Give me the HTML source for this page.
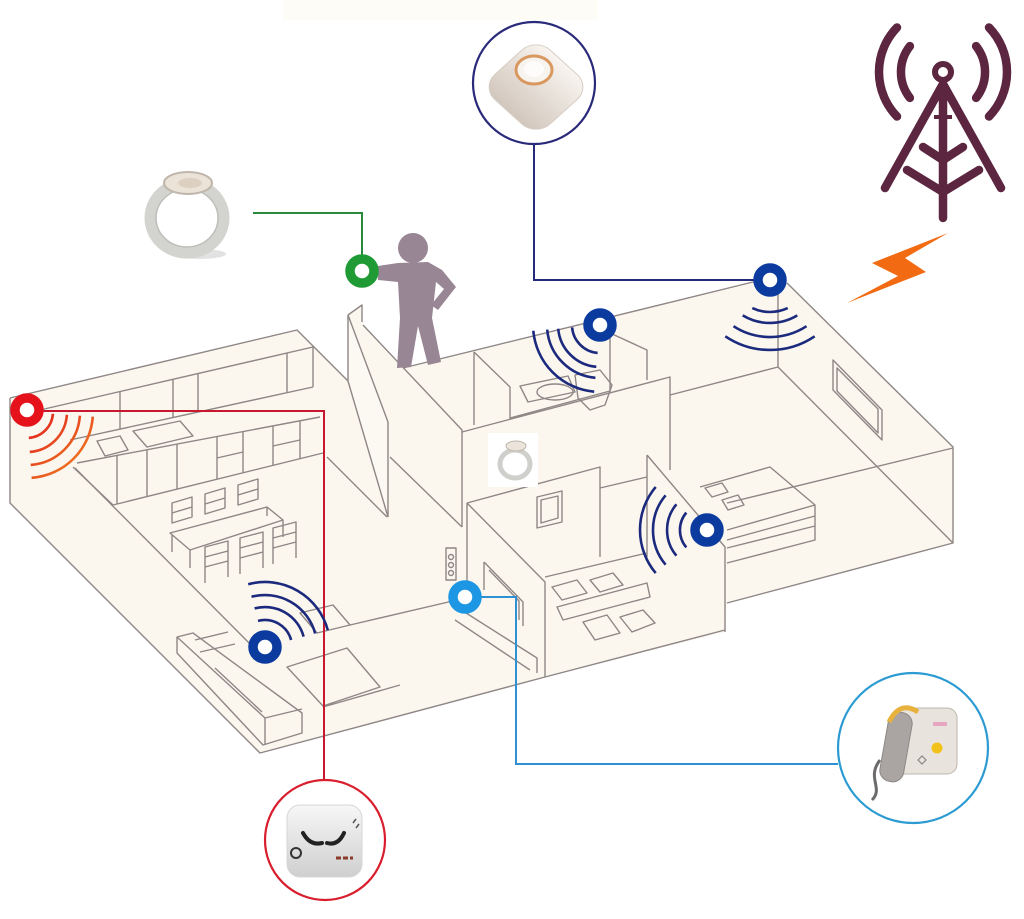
<!DOCTYPE html>
<html><head><meta charset="utf-8"><style>html,body{margin:0;padding:0;background:#fff}svg{display:block}</style></head>
<body>
<svg xmlns="http://www.w3.org/2000/svg" width="1024" height="919" viewBox="0 0 1024 919">
<defs>
<linearGradient id="dev" x1="0" y1="0" x2="0" y2="1"><stop offset="0" stop-color="#f8f4ef"/><stop offset="1" stop-color="#d2c7bd"/></linearGradient>
<linearGradient id="smk" x1="0" y1="0" x2="0" y2="1"><stop offset="0" stop-color="#f7f7f7"/><stop offset="1" stop-color="#cfcfcf"/></linearGradient>
<linearGradient id="redw" x1="27" y1="412" x2="90" y2="475" gradientUnits="userSpaceOnUse"><stop offset="0" stop-color="#e0141e"/><stop offset="1" stop-color="#f08a20"/></linearGradient>
</defs>
<rect width="1024" height="919" fill="#fff"/>
<rect x="283" y="0" width="315" height="20" fill="#fefcf6"/>

<polygon fill="#fbf7ef" points="10,398 297,330 348,381 348,315 362,305 363,325 403,368 757,281 787,283 953,447 953,543 727,603 725,632 545,677 260,753 10,503"/>

<polygon fill="#fcf9f3" stroke="#8f8686" stroke-width="1.4" points="348,315 388,422 388,517 348,381"/>

<g fill="none" stroke="#8f8686" stroke-width="1.4" stroke-linejoin="round">
<path d="M10,398 L297,330 L348,381 M10,398 V503 L260,753 L545,677 L725,630 M727,603 L953,543 V447 L787,283 M403,368 L757,281 M363,325 L462,430 V527"/>
<path d="M348,315 L362,305 V322"/>
<path d="M40,410 L313,347 V387 M70,440 L313,387 M120,391 V429 M173,379 V417 M198,374 V412 M287,353 V393"/>
<path d="M77,463 L320,417 M113,505 L323,453 M73,467 L113,505 M117,455 V504 M147,450 V497 M177,444 V489 M217,436 V479 M243,432 V473 M273,426 V466 M300,421 V459 M217,458 L243,452 M273,446 L300,440"/>
<path d="M97,441 L120,436 L128,450 L105,456 Z M133,431 L180,421 L193,436 L147,447 Z"/>
<path d="M75,468 L262,656 M327,457 L387,517 M390,457 L462,527"/>
<path d="M474,352 V425 M474,352 L510,387 V420 M462,432 L670,377 V470 M510,418 L610,391 M610,333 L647,350 V380 M610,333 V392"/>
<path d="M670,395 L778,367 M778,283 V367 L953,543 M727,503 L953,448"/>
<path d="M833,360 L882,410 V440 L833,390 Z M837,368 L878,409 V433 L837,391 Z"/>
<path d="M700,487 L770,467 L815,505 V540 L727,563 M727,530 L815,505 M727,540 L815,516 M727,548 L815,526"/>
<path d="M705,488 L722,483 L728,492 L712,497 Z M722,500 L738,495 L744,505 L728,510 Z"/>
<path d="M467,503 L600,467 V557 M467,503 L545,582 V677 M467,503 V585 M600,488 L647,477 M545,577 L647,553 M647,455 L725,547 V632 M647,455 V557"/>
<path d="M537,497 L562,491 V522 L537,528 Z M541,500 L558,496 V518 L541,523 Z"/>
<path d="M484,562 L523,602 V626 M484,562 V590 M489,570 L519,601 V620"/>
<path d="M455,606 L537,658 V673 M455,620 L530,670 M350,625 L457,600"/>
<rect x="446" y="548" width="10" height="32"/>
<circle cx="451" cy="557" r="2.5"/><circle cx="451" cy="565" r="2.5"/><circle cx="451" cy="573" r="2.5"/>
<ellipse cx="555" cy="392" rx="18" ry="8"/>
<path d="M575,375 L600,370 L612,385 L605,405 L590,410 L578,398 Z M520,386 L568,376 L575,392 L528,402 Z"/>
<path d="M557,607 L647,583 L650,597 L563,620 Z M552,587 L577,580 L587,593 L562,600 Z M590,580 L613,573 L623,585 L600,592 Z M583,622 L607,615 L620,633 L595,640 Z M620,617 L643,610 L655,623 L632,632 Z"/>
<path d="M177,637 L193,633 L302,713 V733 L263,745 L177,653 Z M177,637 L265,718 L302,709 M265,718 V745 M195,640 L228,632 M200,652 L235,644 M215,668 L262,712"/>
<path d="M287,667 L347,648 L380,687 L323,706 Z M300,613 L333,605 L350,625 L317,633 Z M323,707 L400,685"/>
<path d="M170,533 L267,507 L283,520 L190,550 Z M172,535 V552 M190,550 V568 M283,520 V537 M267,507 V516"/>
<path d="M172,503 L192,497 V517 L172,523 Z M205,494 L225,488 V508 L205,514 Z M238,485 L258,479 V499 L238,505 Z M172,513 L192,507 M205,504 L225,498 M238,495 L258,489"/>
<path d="M205,547 L228,541 V561 L205,567 Z M205,567 V583 M228,561 V577 M240,538 L263,532 V552 L240,558 Z M240,558 V574 M263,552 V568 M273,528 L296,522 V542 L273,548 Z M273,548 V564 M296,542 V558 M205,557 L228,551 M240,548 L263,542 M273,538 L296,532"/>
</g>

<rect x="488" y="433" width="50" height="54" fill="#ffffff"/>
<ellipse cx="515" cy="464" rx="15" ry="14" fill="none" stroke="#cfcfcc" stroke-width="5"/>
<ellipse cx="516" cy="446" rx="10" ry="5" fill="#ece4da" stroke="#bdb4aa"/>

<g fill="none" stroke-width="2">
<path d="M534,144 V280 H758" stroke="#252a7c"/>
<path d="M253,213 H362 V259" stroke="#2a8a3c"/>
<path d="M39,411 H324 V780" stroke="#c81830"/>
<path d="M477,597 H516 V764 H838" stroke="#2f90d4"/>
</g>

<g fill="none" stroke="url(#redw)" stroke-width="2.6">
<path d="M52.9,413.8 A26,26 0 0 1 28.8,437.9"/>
<path d="M66.9,414.8 A40,40 0 0 1 29.8,451.9"/>
<path d="M79.9,415.7 A53,53 0 0 1 30.7,464.9"/>
<path d="M92.8,416.6 A66,66 0 0 1 31.6,477.8"/>
</g>
<g fill="none" stroke="#1c2a7e" stroke-width="2.6">
<path d="M597.6,352.9 A28,28 0 0 1 572.1,327.4"/>
<path d="M596.3,366.8 A42,42 0 0 1 558.2,328.7"/>
<path d="M595.4,377.8 A53,53 0 0 1 547.2,329.6"/>
<path d="M594.2,391.7 A67,67 0 0 1 533.3,330.8"/>
<path d="M787.7,308.1 A42,42 0 0 1 752.3,308.1"/>
<path d="M797.3,315.4 A53,53 0 0 1 742.7,315.4"/>
<path d="M806.5,326.2 A67,67 0 0 1 733.5,326.2"/>
<path d="M814.7,336.3 A80,80 0 0 1 725.3,336.3"/>
<path d="M686.3,547.4 A27,27 0 0 1 686.3,512.6"/>
<path d="M676.4,555.7 A40,40 0 0 1 676.4,504.3"/>
<path d="M665.6,564.7 A54,54 0 0 1 665.6,495.3"/>
<path d="M655.7,573.1 A67,67 0 0 1 655.7,486.9"/>
<path d="M258,620.9 A27,27 0 0 1 291.1,640"/>
<path d="M254.6,608.4 A40,40 0 0 1 303.6,636.6"/>
<path d="M251.5,596.8 A52,52 0 0 1 315.2,633.5"/>
<path d="M248.2,584.2 A65,65 0 0 1 327.8,630.2"/>
</g>

<g fill="#998694">
<circle cx="413" cy="248" r="15"/>
<polygon points="378,266 398,263 428,262 442,270 456,287 438,310 431,305 444,289 436,282 432,318 441,362 428,365 418,326 411,367 397,368 400,318 398,282 378,280"/>
</g>

<g fill="#fff" stroke-width="9.5">
<circle cx="27" cy="410" r="12" stroke="#e5121b"/>
<circle cx="362" cy="271" r="12" stroke="#1f9a35"/>
<circle cx="770" cy="280" r="12" stroke="#0b3b9e"/>
<circle cx="600" cy="325" r="12" stroke="#0b3b9e"/>
<circle cx="707" cy="530" r="12" stroke="#0b3b9e"/>
<circle cx="265" cy="647" r="12" stroke="#0b3b9e"/>
<circle cx="465" cy="597" r="12" stroke="#1d97e3"/>
</g>

<circle cx="534" cy="83" r="61" fill="#fff" stroke="#2a2a7a" stroke-width="2.2"/>
<circle cx="325" cy="840" r="60" fill="#fff" stroke="#d91e2e" stroke-width="2.2"/>
<circle cx="913" cy="748" r="75" fill="#fff" stroke="#2b9bd2" stroke-width="2.2"/>

<g transform="translate(536,87)">
<rect x="-39" y="-39" width="78" height="78" rx="20" transform="scale(1,0.9) rotate(45)" fill="url(#dev)" stroke="#d6ccc2"/>
<ellipse cx="-2" cy="-17" rx="18" ry="14" fill="#f7f3ef" stroke="#d9985f" stroke-width="3"/>
<ellipse cx="-2" cy="-18" rx="10" ry="8" fill="#fdfcfb"/>
</g>

<ellipse cx="200" cy="254" rx="26" ry="5" fill="#cfcfcf" opacity="0.6"/>
<ellipse cx="187" cy="218" rx="37" ry="35" fill="none" stroke="#d3d3d0" stroke-width="11"/>
<ellipse cx="187" cy="218" rx="31" ry="29" fill="none" stroke="#bdbdb9" stroke-width="1.5"/>
<ellipse cx="188" cy="183" rx="24" ry="11" fill="#ebe2d8" stroke="#bfb6ac" stroke-width="2"/>
<ellipse cx="190" cy="183" rx="12" ry="5" fill="#ddd0c0"/>

<rect x="287" y="805" width="75" height="72" rx="13" fill="url(#smk)" stroke="#d6d6d6"/>
<path d="M303,833 Q310,846 322,843" fill="none" stroke="#222" stroke-width="4" stroke-linecap="round"/>
<path d="M327,843 Q338,846 344,833" fill="none" stroke="#222" stroke-width="4" stroke-linecap="round"/>
<circle cx="296" cy="853" r="5" fill="none" stroke="#333" stroke-width="2"/>
<path d="M336,858 h5 M343,858 h5 M350,858 h3" stroke="#8a3a2a" stroke-width="3"/>
<path d="M353,823 l3,-4 M356,828 l3,-4" stroke="#555" stroke-width="1.5"/>

<path d="M880,760 C866,778 884,788 872,800" fill="none" stroke="#6d6a6a" stroke-width="3"/>
<rect x="895" y="708" width="62" height="66" rx="10" fill="#e9e3dd" stroke="#bdb5ae"/>
<rect x="884" y="712" width="24" height="70" rx="11" fill="#aaa4a3" stroke="#8d8787" transform="rotate(10 896 747)"/>
<path d="M889,722 Q900,700 918,712" fill="none" stroke="#e7b23e" stroke-width="5"/>
<circle cx="937" cy="748" r="5.5" fill="#f2c21a"/>
<path d="M918,760 l4,-4 l4,4 l-4,4 Z" fill="none" stroke="#888" stroke-width="1.2"/>
<rect x="933" y="722" width="14" height="4" fill="#e7a6c0"/>

<g fill="none" stroke="#5c2540" stroke-width="8.5" stroke-linecap="round" stroke-linejoin="round">
<path d="M909.9,97.9 A42,42 0 0 1 909.9,46.1"/>
<path d="M976.1,46.1 A42,42 0 0 1 976.1,97.9"/>
<path d="M897,116.5 A64,64 0 0 1 897,27.5"/>
<path d="M989,27.5 A64,64 0 0 1 989,116.5"/>
<path d="M943,84 L885,188 M943,84 L1001,188 M943,84 V218"/>
<path d="M923,147 L943,160 L963,147 M907,170 L943,192 L979,170"/>
</g>
<circle cx="943" cy="72" r="8" fill="#fff" stroke="#5c2540" stroke-width="6"/>
<path d="M934,117 H952" stroke="#5c2540" stroke-width="4"/>

<polygon fill="#f26b12" points="948,233 872,263 898,276 847,303 926,272 905,258"/>
</svg>
</body></html>
